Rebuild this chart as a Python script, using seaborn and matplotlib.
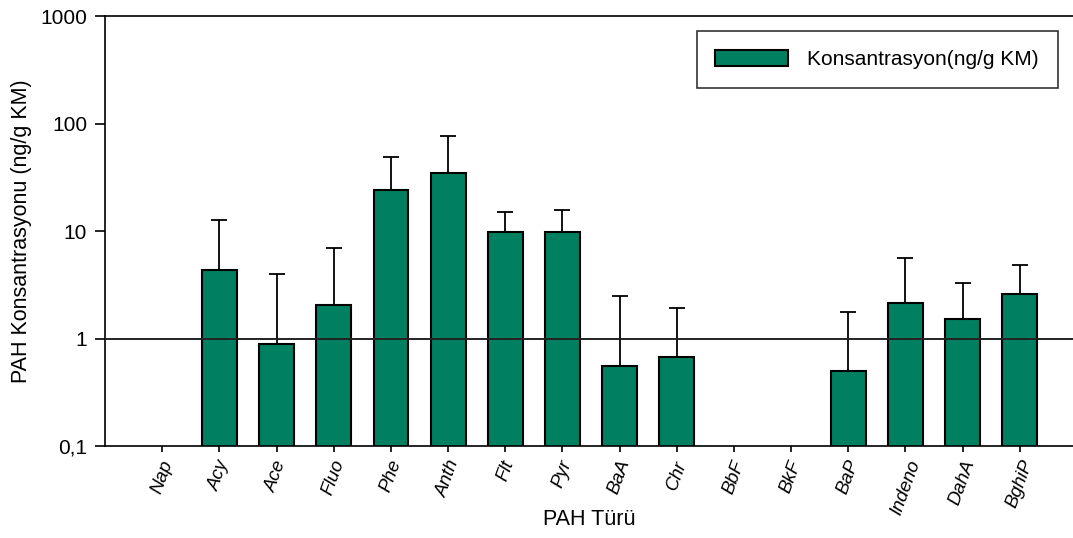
import numpy as np
import pandas as pd
import matplotlib
matplotlib.use("Agg")
import matplotlib.pyplot as plt
import seaborn as sns
from matplotlib.ticker import FixedLocator, NullLocator

# PAH species and measured concentrations (ng/g KM); NaN = not detected
pah = ["Nap", "Acy", "Ace", "Fluo", "Phe", "Anth", "Flt", "Pyr", "BaA", "Chr",
       "BbF", "BkF", "BaP", "Indeno", "DahA", "BghiP"]
mean_conc = [np.nan, 4.3, 0.89, 2.06, 24.0, 35.0, 9.8, 9.8, 0.56, 0.68,
             np.nan, np.nan, 0.50, 2.13, 1.53, 2.62]
# upper end of the error bar (mean + sd)
upper_conc = [np.nan, 12.6, 4.0, 6.9, 49.0, 76.0, 15.2, 15.6, 2.47, 1.93,
              np.nan, np.nan, 1.78, 5.67, 3.27, 4.88]

y_ticks = [0.1, 1, 10, 100, 1000]
y_tick_labels = ["0,1", "1", "10", "100", "1000"]

bar_color = "#008060"

sns.set_style("ticks")
plt.rcParams["font.family"] = ["Liberation Sans", "DejaVu Sans"]
plt.rcParams["text.color"] = "black"
plt.rcParams["axes.labelcolor"] = "black"
plt.rcParams["xtick.color"] = "black"
plt.rcParams["ytick.color"] = "black"

df = pd.DataFrame({"PAH": pah, "conc": mean_conc, "upper": upper_conc})

fig = plt.figure(figsize=(10.73, 5.38), dpi=100)
ax = fig.add_axes([0.098, 0.171, 0.902, 0.799])

sns.barplot(data=df, x="PAH", y="conc", order=pah, color=bar_color,
            saturation=1, width=0.61, edgecolor="black", linewidth=1.5,
            errorbar=None, ax=ax, label="Konsantrasyon(ng/g KM)", zorder=2)

ax.set_yscale("log")

# upper-only error bars
pos = np.arange(len(pah))
mean_arr = np.array(mean_conc)
up_arr = np.array(upper_conc) - mean_arr
mask = ~np.isnan(mean_arr)
ax.errorbar(pos[mask], mean_arr[mask],
            yerr=[np.zeros(mask.sum()), up_arr[mask]],
            fmt="none", ecolor="black", elinewidth=1.3, capsize=6,
            capthick=1.3, zorder=1)

ax.axhline(1, color="#222222", linewidth=1.4, zorder=3)

ax.set_ylim(0.1, 1000)
ax.set_xlim(-1, 15.93)
ax.yaxis.set_major_locator(FixedLocator(y_ticks))
ax.yaxis.set_minor_locator(NullLocator())
ax.set_yticklabels(y_tick_labels, fontsize=15)
ax.set_xticks(pos)
ax.set_xticklabels(pah, rotation=70, fontsize=13.5, style="italic",
                   ha="center", va="top")
ax.tick_params(axis="y", direction="out", length=7, width=1.2, pad=6)
ax.tick_params(axis="x", direction="out", length=4.5, width=1.2, pad=4)

ax.set_xlabel("PAH Türü", fontsize=15.5, labelpad=-6)
ax.set_ylabel("PAH Konsantrasyonu (ng/g KM)", fontsize=15.5, labelpad=6)

for side in ["left", "bottom", "top"]:
    ax.spines[side].set_visible(True)
    ax.spines[side].set_color("black")
    ax.spines[side].set_linewidth(1.2)
ax.spines["right"].set_visible(False)

leg = ax.legend(loc="upper right", bbox_to_anchor=(0.984, 0.965),
                borderaxespad=0, fontsize=15, frameon=True, fancybox=False,
                borderpad=0.9, handlelength=3.5, handleheight=0.8,
                handletextpad=0.9)
leg.get_frame().set_edgecolor("black")
leg.get_frame().set_linewidth(1.2)

fig.savefig("out.png", dpi=100)
